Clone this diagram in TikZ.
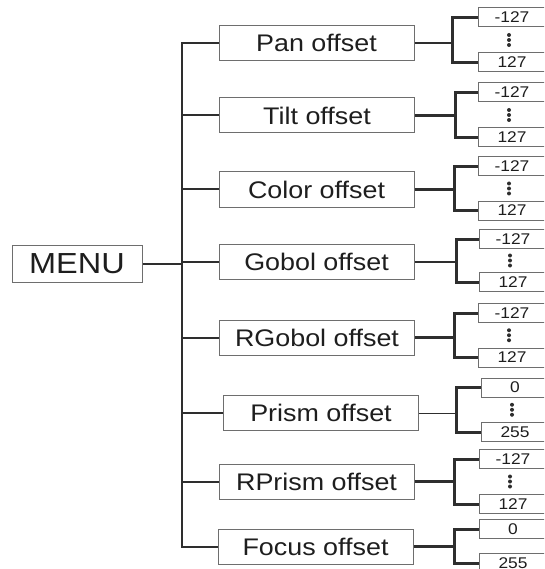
\documentclass[tikz,border=0pt]{standalone}
\usepackage{fontspec}
\setmainfont{Liberation Sans}[FakeStretch=1.12]
\usepackage{tikz}
\usetikzlibrary{positioning,calc}
\definecolor{boxgray}{HTML}{6E6E6E}
\definecolor{linegray}{HTML}{2E2E2E}
\definecolor{txtgray}{HTML}{1E1E1E}
\newcommand\valdots[2]{\foreach \d in {-5,0,5} \fill[linegray] ($(#1)!0.5!(#2)+(-3,\d)$) circle (2pt);}

\begin{document}
\begin{tikzpicture}[x=1pt, y=-1pt,
    item/.style={draw=boxgray, line width=1pt, minimum width=195pt, minimum height=35pt, inner sep=0pt, text=txtgray, font=\fontsize{24}{24}\selectfont},
    val/.style={draw=boxgray, line width=1pt, minimum width=68pt, minimum height=19pt, inner sep=0pt, text=txtgray, font=\fontsize{15.5}{15.5}\selectfont},
    tree/.style={draw=linegray, line width=2pt},
    arm/.style={draw=linegray, line width=2.5pt},
    bracket/.style={draw=linegray, line width=3pt}]
        \useasboundingbox (0,0) rectangle (544,569);
        \clip (0,0) rectangle (544,569);

        \node (menu) [draw=boxgray, line width=1pt, minimum width=130pt, minimum height=37pt, inner sep=0pt, text=txtgray, font=\fontsize{29}{29}\selectfont] at (77,263.5) {MENU};

        \node[item] (pan) at (316.5,43) {Pan offset};
        \node[item] (tilt) at (317,115.5) {Tilt offset};
        \node[item] (color) at (316.5,189.5) {Color offset};
        \node[item] (gobol) at (316.5,262) {Gobol offset};
        \node[item] (rgobol) at (317,337.5) {RGobol offset};
        \node[item] (prism) at (321,413) {Prism offset};
        \node[item] (rprism) at (316.5,481.5) {RPrism offset};
        \node[item] (focus) at (315.5,546.5) {Focus offset};

        \node[val] (pan1) at (512,17.5) {-127};
        \node[val] (pan2) at (512,62.5) {127};
        \node[val] (tilt1) at (512,92.5) {-127};
        \node[val] (tilt2) at (512,137.5) {127};
        \node[val] (color1) at (512,166.5) {-127};
        \node[val] (color2) at (512,210.5) {127};
        \node[val] (gobol1) at (513,239) {-127};
        \node[val] (gobol2) at (513,282) {127};
        \node[val] (rgobol1) at (512,313) {-127};
        \node[val] (rgobol2) at (512,357.5) {127};
        \node[val] (prism1) at (515,387.5) {0};
        \node[val] (prism2) at (515,432) {255};
        \node[val] (rprism1) at (513,459) {-127};
        \node[val] (rprism2) at (513,504) {127};
        \node[val] (focus1) at (513,529) {0};
        \node[val] (focus2) at (513,563) {255};

        \coordinate[right=38pt of pan] (panb);
        \coordinate[right=40pt of tilt] (tiltb);
        \coordinate[right=40pt of color] (colorb);
        \coordinate[right=42pt of gobol] (gobolb);
        \coordinate[right=39pt of rgobol] (rgobolb);
        \coordinate[right=37pt of prism] (prismb);
        \coordinate[right=40pt of rprism] (rprismb);
        \coordinate[right=41pt of focus] (focusb);
        \coordinate[left=36pt of focus] (trunk);

        \draw[tree] (pan) -| (trunk) -- (focus);
        \draw[tree] (tilt) -- (tilt -| trunk);
        \draw[tree] (color) -- (color -| trunk);
        \draw[tree] (gobol) -- (gobol -| trunk);
        \draw[tree] (rgobol) -- (rgobol -| trunk);
        \draw[tree] (prism) -- (prism -| trunk);
        \draw[tree] (rprism) -- (rprism -| trunk);
        \draw[tree] (menu) -- (menu -| trunk);

        \draw[arm] (pan) -- (panb);
        \draw[arm] (tilt) -- (tiltb);
        \draw[arm] (color) -- (colorb);
        \draw[arm] (gobol) -- (gobolb);
        \draw[arm] (rgobol) -- (rgobolb);
        \draw[draw=linegray, line width=1pt] (prism) -- (prismb);
        \draw[arm] (rprism) -- (rprismb);
        \draw[arm] (focus) -- (focusb);

        \draw[bracket] (pan1) -| (panb) |- (pan2);
        \draw[bracket] (tilt1) -| (tiltb) |- (tilt2);
        \draw[bracket] (color1) -| (colorb) |- (color2);
        \draw[bracket] (gobol1) -| (gobolb) |- (gobol2);
        \draw[bracket] (rgobol1) -| (rgobolb) |- (rgobol2);
        \draw[bracket] (prism1) -| (prismb) |- (prism2);
        \draw[bracket] (rprism1) -| (rprismb) |- (rprism2);
        \draw[bracket] (focus1) -| (focusb) |- (focus2);

        % three dots between the two values
        \valdots{pan1}{pan2}
        \valdots{tilt1}{tilt2}
        \valdots{color1}{color2}
        \valdots{gobol1}{gobol2}
        \valdots{rgobol1}{rgobol2}
        \valdots{prism1}{prism2}
        \valdots{rprism1}{rprism2}
    \end{tikzpicture}
\end{document}
